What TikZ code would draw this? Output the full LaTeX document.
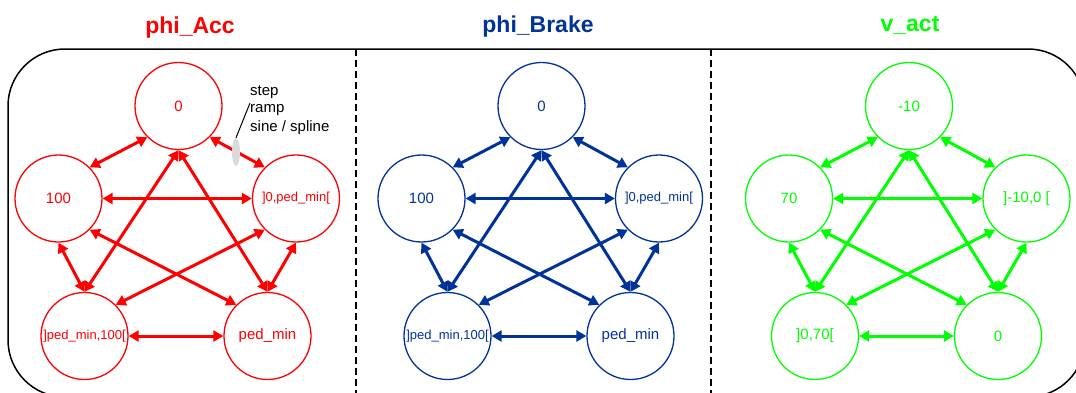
\documentclass[tikz,border=0pt]{standalone}
\usepackage{fontspec}
\setmainfont{Liberation Sans}
\usetikzlibrary{arrows.meta,shapes.geometric}
\definecolor{cR}{RGB}{255,0,0}
\definecolor{cB}{RGB}{0,51,153}
\definecolor{cG}{RGB}{0,255,0}
\newcommand\smalllab{\fontsize{13}{15}\selectfont}
\newcommand\statepanel[8]{%
  \begin{scope}[xshift=#2pt, color=#3]
    \node[state] (#1t)  at (178.5,106) {#4};
    \node[state] (#1l)  at (58.5,198.5) {#5};
    \node[state] (#1r)  at (296,198.5) {#6};
    \node[state] (#1bl) at (84.5,336) {#7};
    \node[state] (#1br) at (267.5,336) {#8};
    \draw[link] (#1t.south west) -- (#1l.north east);
    \draw[link] (#1t.south east) -- (#1r.north west);
    \draw[link] (#1t.south) -- (#1bl.north);
    \draw[link] (#1t.south) -- (#1br.north);
    \draw[link] (#1l.east) -- (#1r.west);
    \draw[link] (#1l.south) -- (#1bl.north);
    \draw[link] (#1r.south) -- (#1br.north);
    \draw[link] (#1l.south east) -- (#1br.north west);
    \draw[link] (#1r.south west) -- (#1bl.north east);
    \draw[link] (#1bl.east) -- (#1br.west);
  \end{scope}}
\begin{document}
\begin{tikzpicture}[x=1pt,y=-1pt,
  state/.style={circle,draw,line width=1.3pt,minimum size=87pt,inner sep=0pt,
    font=\fontsize{15}{17}\selectfont},
  link/.style={line width=3pt,
    {Triangle[length=10pt,width=11pt]}-{Triangle[length=10pt,width=11pt]}},
  title/.style={font=\fontsize{23}{26}\selectfont\bfseries,anchor=base},
  frame/.style={line width=1.5pt,rounded corners=57pt},
  sep/.style={line width=2.2pt,dash pattern=on 7pt off 4pt},
  annot/.style={anchor=base west,inner sep=0pt,font=\fontsize{15}{18}\selectfont}]
\useasboundingbox (0,0) rectangle (1076,392);
\fill[white] (0,0) rectangle (1076,392);
% frame and separators
\draw[frame] (8,49) rectangle (1085,397);
\draw[sep] (356,49) -- (356,395);
\draw[sep] (711,49) -- (711,395);
% titles
\node[title,text=cR] (tA) at (190,33) {phi\_Acc};
\node[title,text=cB] (tB) at (538,32) {phi\_Brake};
\node[title,text=cG] (tC) at (910,31) {v\_act};
% panels
\statepanel{a}{0}{cR}{0}{100}{{\smalllab ]0,ped\_min[}}{{\smalllab ]ped\_min,100[}}{ped\_min}
\statepanel{b}{363}{cB}{0}{100}{{\smalllab ]0,ped\_min[}}{{\smalllab ]ped\_min,100[}}{ped\_min}
\statepanel{c}{730.5}{cG}{-10}{70}{]-10,0 [}{]0,70[}{0}
% annotation
\node[annot] (ann1) at (250,95) {step};
\node[annot] (ann2) at (250,112.5) {ramp};
\node[annot] (ann3) at (250,131) {sine / spline};
\node[ellipse,fill=gray!28,minimum width=8pt,minimum height=28pt,inner sep=0pt] (blob) at (236,152) {};
\coordinate (lead) at (250,103);
\draw[line width=1pt] (lead) -- (blob.north);
\end{tikzpicture}
\end{document}
